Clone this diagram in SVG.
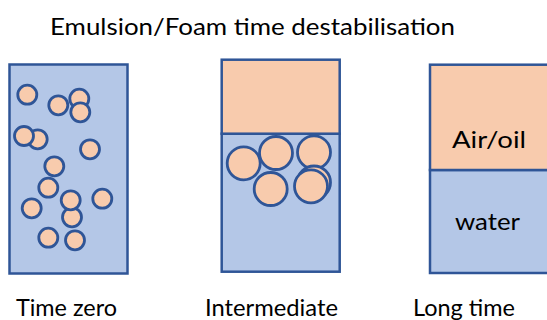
<svg xmlns="http://www.w3.org/2000/svg" width="547" height="320" viewBox="0 0 547 320">
<style>
.water{fill:#B4C7E7;stroke:#2F5597;stroke-width:2.5}
.oil{fill:#F8CBAD;stroke:#2F5597;stroke-width:2.5}
.b{fill:#F8CBAD;stroke:#2F5597;stroke-width:2.8}
text{font-family:Lato,"Open Sans",sans-serif;font-size:24px;fill:#000}
</style>
<rect width="547" height="320" fill="#fff"/>
<text x="50" y="35" textLength="405" lengthAdjust="spacingAndGlyphs">Emulsion/Foam time destabilisation</text>
<g id="time-zero">
<rect class="water" x="9.5" y="64.5" width="118" height="209"/>
<circle class="b" cx="27.3" cy="94.7" r="9.5"/>
<circle class="b" cx="58.3" cy="105.3" r="9.5"/>
<circle class="b" cx="79.3" cy="98.7" r="9.5"/>
<circle class="b" cx="80.3" cy="112.3" r="9.5"/>
<circle class="b" cx="37.7" cy="139.3" r="9.5"/>
<circle class="b" cx="24" cy="136" r="9.5"/>
<circle class="b" cx="90" cy="149.3" r="9.5"/>
<circle class="b" cx="54.3" cy="166.3" r="9.5"/>
<circle class="b" cx="48.3" cy="187.7" r="9.5"/>
<circle class="b" cx="31.7" cy="208.3" r="9.5"/>
<circle class="b" cx="72" cy="217.3" r="9.5"/>
<circle class="b" cx="70.7" cy="200.3" r="9.5"/>
<circle class="b" cx="102.3" cy="198.7" r="9.5"/>
<circle class="b" cx="48.3" cy="237.7" r="9.5"/>
<circle class="b" cx="75" cy="240.3" r="9.5"/>
<text x="16" y="316" textLength="101" lengthAdjust="spacingAndGlyphs">Time zero</text>
</g>
<g id="intermediate">
<rect class="water" x="221.7" y="133.7" width="118" height="138"/>
<rect class="oil" x="221.7" y="59.7" width="118" height="74"/>
<circle class="b" cx="243.7" cy="163.3" r="16.5"/>
<circle class="b" cx="276" cy="153" r="16.5"/>
<circle class="b" cx="314" cy="152.3" r="16.5"/>
<circle class="b" cx="270.7" cy="189" r="16.5"/>
<circle class="b" cx="314" cy="182.5" r="16.5"/>
<circle class="b" cx="311" cy="186.3" r="16.5"/>
<text x="205" y="316" textLength="133" lengthAdjust="spacingAndGlyphs">Intermediate</text>
</g>
<g id="long-time">
<rect class="water" x="430" y="170" width="125" height="103"/>
<rect class="oil" x="430" y="64.7" width="125" height="105.3"/>
<text x="452" y="148" textLength="74" lengthAdjust="spacingAndGlyphs">Air/oil</text>
<text x="455" y="230" textLength="65" lengthAdjust="spacingAndGlyphs">water</text>
<text x="413" y="316" textLength="102" lengthAdjust="spacingAndGlyphs">Long time</text>
</g>
<g id="connectors"/>
</svg>
